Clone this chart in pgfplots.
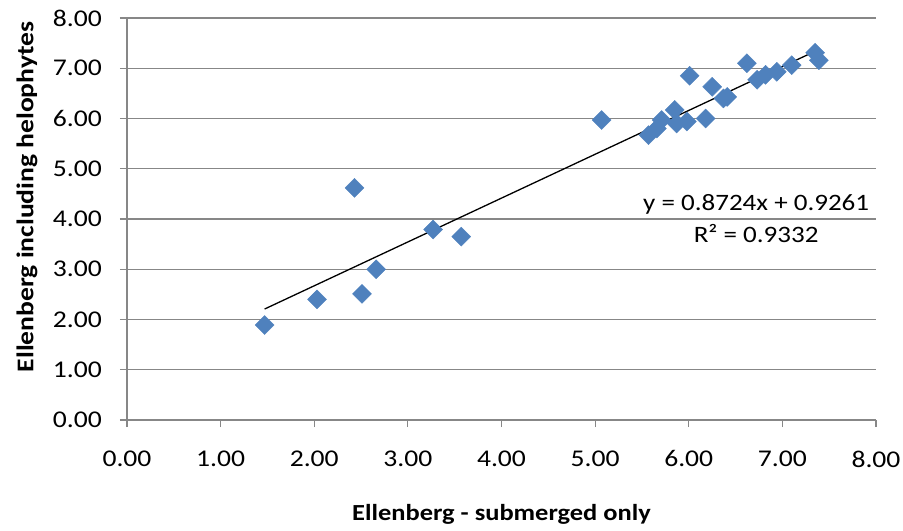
\documentclass[border=0pt]{standalone}
\usepackage{fontspec}
\setmainfont{Carlito}[FakeStretch=1.15]
\usepackage{pgfplots}
\pgfplotsset{compat=1.18}
\definecolor{ptblue}{HTML}{4F81BD}
\definecolor{gridgray}{HTML}{878787}
\pgfplotstableread{
x y
1.47 1.89
2.03 2.40
2.43 4.62
2.51 2.51
2.66 3.00
3.27 3.79
3.57 3.65
5.07 5.97
5.57 5.67
5.66 5.80
5.71 5.97
5.85 6.17
5.87 5.90
5.98 5.94
6.01 6.85
6.18 6.00
6.25 6.63
6.37 6.40
6.41 6.43
6.62 7.10
6.73 6.77
6.82 6.87
6.94 6.93
7.10 7.06
7.35 7.31
7.39 7.16
}\datatable
\begin{document}
\begin{tikzpicture}
\begin{axis}[
  scale only axis, width=749bp, height=402bp,
  xmin=0, xmax=8, ymin=0, ymax=8,
  xtick={0,1,...,8}, ytick={0,1,...,8},
  axis x line*=bottom, axis y line*=left,
  axis line style={-, gridgray, line width=1.2bp},
  tick align=outside, major tick length=7bp,
  tick style={gridgray, line width=1.2bp},
  ymajorgrids, grid style={gridgray, line width=1.2bp},
  tick label style={font=\fontsize{24bp}{28bp}\selectfont, black, inner sep=0pt},
  xticklabel style={anchor=north, yshift=-23.5bp},
  yticklabel style={anchor=east, xshift=-18bp},
  /pgf/number format/.cd, fixed, fixed zerofill, precision=2, assume math mode=true,
  /pgfplots/.cd,
  xlabel={Ellenberg - submerged only},
  ylabel={Ellenberg including  helophytes},
  xlabel style={font=\bfseries\fontsize{23bp}{26bp}\selectfont,
    at={(axis description cs:0.5,-0.236)}, anchor=center},
  ylabel style={font=\bfseries\fontsize{24bp}{28bp}\selectfont,
    at={(axis description cs:-0.1335,0.555)}, anchor=center},
  clip=false,
]
\addplot[only marks, mark=square*, mark size=6.7bp,
  mark options={rotate=45, fill=ptblue, draw=ptblue}]
  table[x=x, y=y] {\datatable};
\addplot[black, line width=1.3bp] coordinates {(1.47,2.2085) (7.39,7.3731)};
\node[align=center, font=\fontsize{23.5bp}{32bp}\selectfont] at (axis cs:6.72,4.0)
  {y = 0.8724x + 0.9261\\R² = 0.9332};
\end{axis}
\pgfresetboundingbox
\path[use as bounding box] (-127bp,-111bp) rectangle (776bp,420bp);
\end{tikzpicture}
\end{document}
